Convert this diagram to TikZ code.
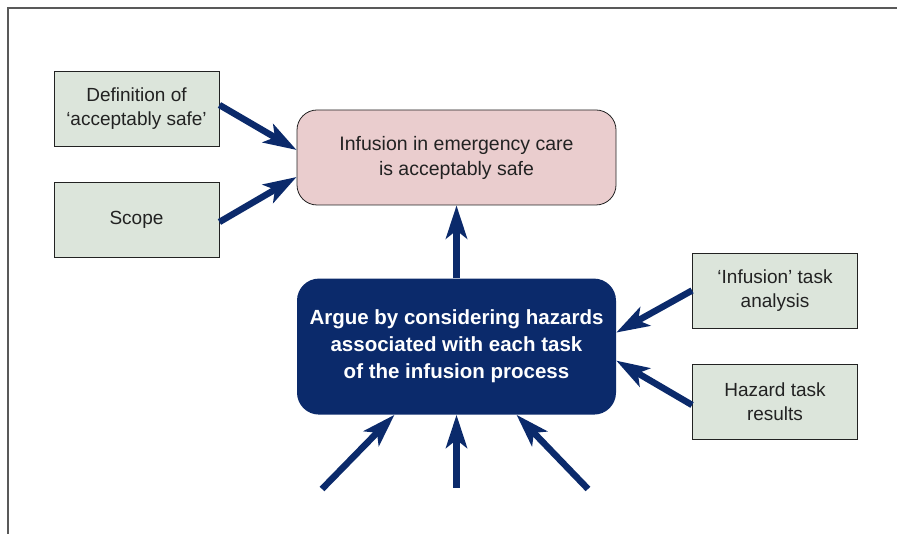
\documentclass[tikz,border=0pt]{standalone}
\usepackage{fontspec}
\setmainfont{Liberation Sans}
\usetikzlibrary{arrows.meta,positioning}

\definecolor{navy}{HTML}{0B2A6B}
\definecolor{boxgreen}{HTML}{DCE5DB}
\definecolor{boxpink}{HTML}{EACDCE}
\definecolor{inkgray}{HTML}{222222}

\tikzset{
  context/.style={draw=inkgray,line width=0.9pt,fill=boxgreen,minimum width=165pt,
    minimum height=75pt,align=center,font=\fontsize{19}{24}\selectfont,text=inkgray},
  goal/.style={draw=inkgray,line width=0.8pt,fill=boxpink,rounded corners=20pt,
    minimum width=319pt,minimum height=95pt,align=center,
    font=\fontsize{19.5}{25}\selectfont,text=inkgray},
  strategy/.style={fill=navy,rounded corners=22pt,minimum width=319pt,minimum height=136pt,
    align=center,font=\bfseries\fontsize{20.5}{27}\selectfont,text=white},
  support/.style={navy,line width=6.5pt,-{Stealth[length=33pt,width=21pt,inset=8pt]}}
}

\begin{document}
\begin{tikzpicture}[x=1pt,y=1pt]
  \useasboundingbox (0,0) rectangle (897,534);
  \draw[gray!70!black,line width=1.2pt] (8,0) -- (8,526) -- (897,526);

  \node[goal] (gl) at (456.5,376.5) {Infusion in emergency care\\is acceptably safe};
  \node[strategy] (st) [below=73pt of gl] {Argue by considering hazards\\associated with each task\\of the infusion process};

  \node[context] (def) at (136.5,425.5) {Definition of\\‘acceptably safe’};
  \node[context] (scp) at (136.5,314.5) {Scope};
  \node[context] (tsk) at (775,243.5) {‘Infusion’ task\\analysis};
  \node[context] (hzd) at (775,132.5) {Hazard task\\results};

  \coordinate (in1) at (322,45);
  \coordinate (in2) at (456.5,46);
  \coordinate (in3) at (588,45);

  \path[support] ([yshift=3.5pt]def.east) edge ([yshift=7.5pt]gl.west)
                 ([yshift=-2.5pt]scp.east) edge ([yshift=-19.5pt]gl.west)
                 (st) edge (gl)
                 (tsk.west) edge ([yshift=14pt]st.east)
                 ([yshift=-3.5pt]hzd.west) edge ([yshift=-14pt]st.east)
                 (in1) edge ([xshift=-62pt]st.south)
                 (in2) edge (st.south)
                 (in3) edge ([xshift=60pt]st.south);
\end{tikzpicture}
\end{document}
